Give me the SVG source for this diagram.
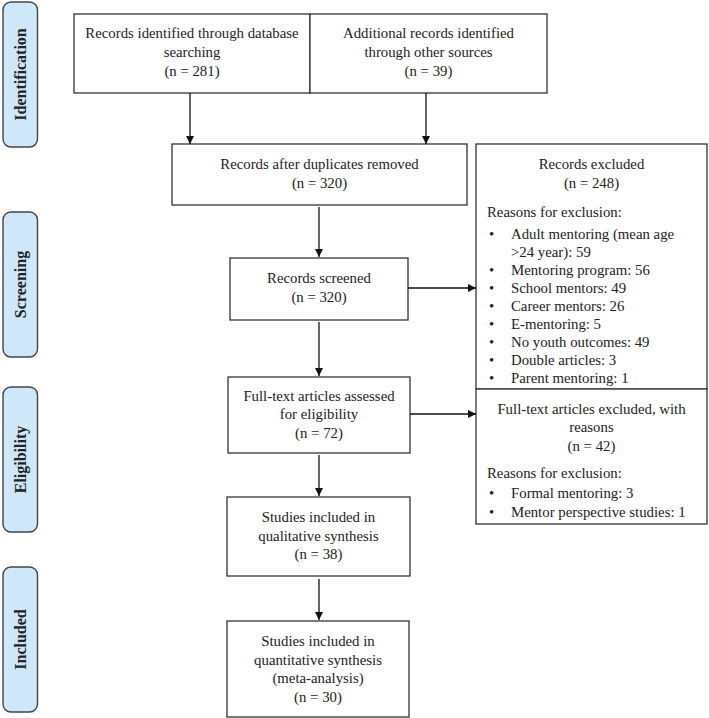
<svg xmlns="http://www.w3.org/2000/svg" width="709" height="718" viewBox="0 0 709 718" font-family="Liberation Serif, Times New Roman, serif">
<defs>
<marker id="ah" viewBox="0 0 10 10" refX="10" refY="5" markerWidth="8" markerHeight="8" markerUnits="userSpaceOnUse" orient="auto">
<path d="M0,0 L10,5 L0,10 z" fill="#111"/>
</marker>
<style>
.box{fill:#fff;stroke:#333;stroke-width:1.3}
.side{fill:#cfe8f9;stroke:#444;stroke-width:1.4}
.t{font-size:14.8px;fill:#222}
.c{text-anchor:middle}
.s{font-size:16px;font-weight:bold;fill:#222;text-anchor:middle}
.ln{stroke:#111;stroke-width:1.3;fill:none;marker-end:url(#ah)}
</style>
</defs>
<rect width="709" height="718" fill="#fff"/>

<g id="stage-identification">
<rect class="side" x="3" y="2" width="34.5" height="145" rx="8"/>
<text class="s" transform="translate(26,74.5) rotate(-90)">Identification</text>
</g>
<g id="stage-screening">
<rect class="side" x="3" y="212" width="34.5" height="145" rx="8"/>
<text class="s" transform="translate(26,284.5) rotate(-90)">Screening</text>
</g>
<g id="stage-eligibility">
<rect class="side" x="3" y="387" width="34.5" height="145" rx="8"/>
<text class="s" transform="translate(26,459.5) rotate(-90)">Eligibility</text>
</g>
<g id="stage-included">
<rect class="side" x="3" y="567" width="34.5" height="145" rx="8"/>
<text class="s" transform="translate(26,639.5) rotate(-90)">Included</text>
</g>

<g id="db-records">
<rect class="box" x="74" y="14" width="236" height="79"/>
<text class="t c" x="192" y="38">Records identified through database</text>
<text class="t c" x="192" y="57">searching</text>
<text class="t c" x="192" y="76">(n = 281)</text>
</g>
<g id="other-records">
<rect class="box" x="310" y="14" width="237" height="79"/>
<text class="t c" x="428.5" y="38">Additional records identified</text>
<text class="t c" x="428.5" y="57">through other sources</text>
<text class="t c" x="428.5" y="76">(n = 39)</text>
</g>
<g id="dedup">
<rect class="box" x="172" y="144" width="295" height="61"/>
<text class="t c" x="319.5" y="169">Records after duplicates removed</text>
<text class="t c" x="319.5" y="188">(n = 320)</text>
</g>
<g id="screened">
<rect class="box" x="230" y="258" width="178" height="62"/>
<text class="t c" x="319" y="283">Records screened</text>
<text class="t c" x="319" y="302">(n = 320)</text>
</g>
<g id="excluded">
<rect class="box" x="476" y="144" width="231" height="245"/>
<text class="t c" x="591.5" y="169">Records excluded</text>
<text class="t c" x="591.5" y="188">(n = 248)</text>
<text class="t" x="487" y="217">Reasons for exclusion:</text>
<g class="t">
<text x="489" y="239">•</text><text x="511" y="239">Adult mentoring (mean age</text>
<text x="511" y="257">&gt;24 year): 59</text>
<text x="489" y="275">•</text><text x="511" y="275">Mentoring program: 56</text>
<text x="489" y="293">•</text><text x="511" y="293">School mentors: 49</text>
<text x="489" y="311">•</text><text x="511" y="311">Career mentors: 26</text>
<text x="489" y="329">•</text><text x="511" y="329">E-mentoring: 5</text>
<text x="489" y="347">•</text><text x="511" y="347">No youth outcomes: 49</text>
<text x="489" y="365">•</text><text x="511" y="365">Double articles: 3</text>
<text x="489" y="383">•</text><text x="511" y="383">Parent mentoring: 1</text>
</g>
</g>
<g id="fulltext">
<rect class="box" x="228" y="377" width="182" height="76"/>
<text class="t c" x="319" y="401">Full-text articles assessed</text>
<text class="t c" x="319" y="419">for eligibility</text>
<text class="t c" x="319" y="438">(n = 72)</text>
</g>
<g id="ft-excluded">
<rect class="box" x="476" y="389" width="231" height="135"/>
<text class="t c" x="591.5" y="414">Full-text articles excluded, with</text>
<text class="t c" x="591.5" y="432">reasons</text>
<text class="t c" x="591.5" y="451">(n = 42)</text>
<text class="t" x="487" y="478">Reasons for exclusion:</text>
<g class="t">
<text x="489" y="498">•</text><text x="511" y="498">Formal mentoring: 3</text>
<text x="489" y="517">•</text><text x="511" y="517">Mentor perspective studies: 1</text>
</g>
</g>
<g id="qualitative">
<rect class="box" x="227" y="497" width="183" height="79"/>
<text class="t c" x="318.5" y="522">Studies included in</text>
<text class="t c" x="318.5" y="541">qualitative synthesis</text>
<text class="t c" x="318.5" y="559">(n = 38)</text>
</g>
<g id="quantitative">
<rect class="box" x="227" y="621" width="182" height="96"/>
<text class="t c" x="318" y="646">Studies included in</text>
<text class="t c" x="318" y="665">quantitative synthesis</text>
<text class="t c" x="318" y="683">(meta-analysis)</text>
<text class="t c" x="318" y="702">(n = 30)</text>
</g>

<g id="connectors">
<line class="ln" x1="190" y1="93" x2="190" y2="144"/>
<line class="ln" x1="426" y1="93" x2="426" y2="144"/>
<line class="ln" x1="319" y1="207" x2="319" y2="257"/>
<line class="ln" x1="319" y1="322" x2="319" y2="376"/>
<line class="ln" x1="408" y1="288" x2="476" y2="288"/>
<line class="ln" x1="410" y1="414" x2="476" y2="414"/>
<line class="ln" x1="319" y1="455" x2="319" y2="496"/>
<line class="ln" x1="319" y1="579" x2="319" y2="620"/>
</g>
</svg>
